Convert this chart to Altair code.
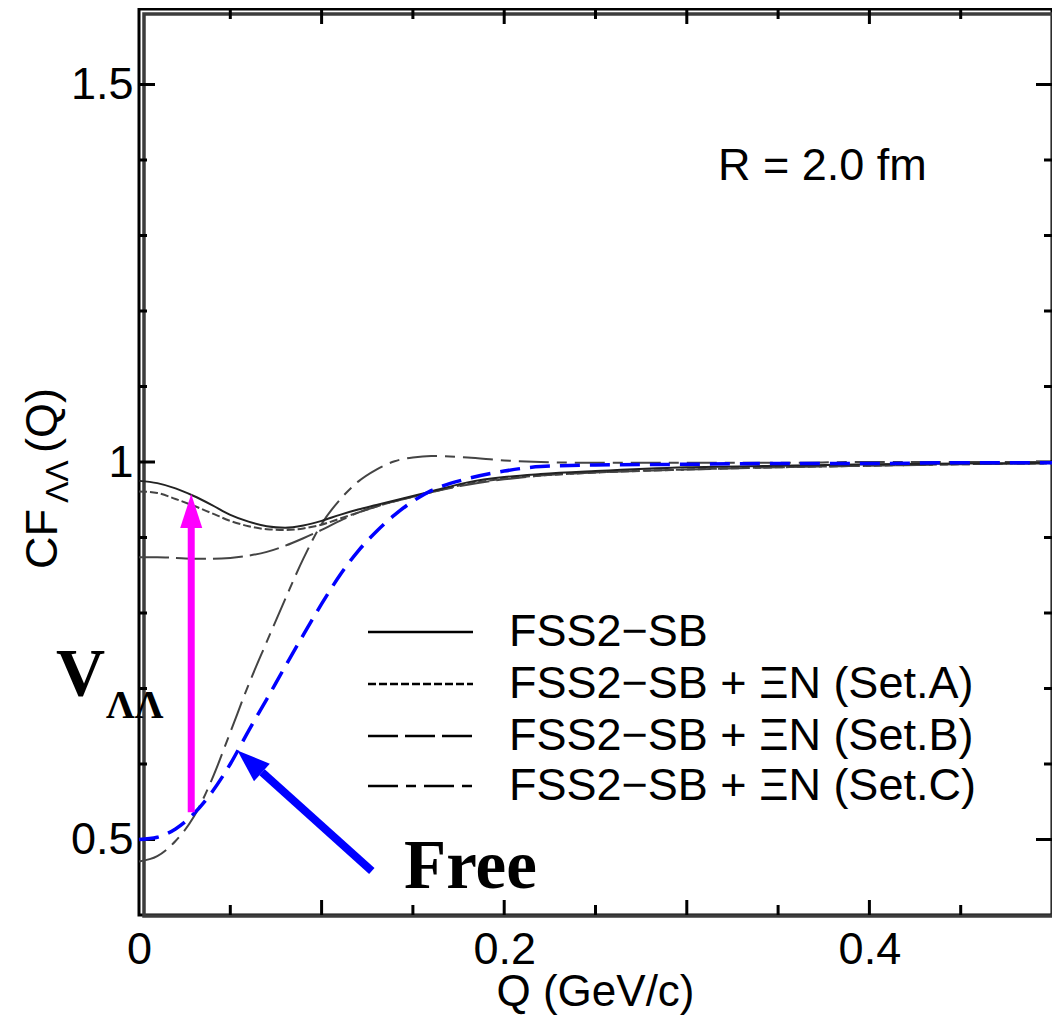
import altair as alt
import pandas as pd

# ---------------- data ----------------
q_values = [0.00, 0.01, 0.02, 0.03, 0.04, 0.05, 0.06, 0.07, 0.08, 0.09, 0.10, 0.11, 0.12,
            0.13, 0.14, 0.15, 0.16, 0.18, 0.20, 0.22, 0.25, 0.30, 0.35, 0.40, 0.45, 0.50]
cf_fss2 = [0.975, 0.972, 0.965, 0.955, 0.943, 0.930, 0.921, 0.915, 0.913, 0.916, 0.922, 0.930, 0.937,
           0.943, 0.949, 0.955, 0.961, 0.973, 0.980, 0.984, 0.988, 0.993, 0.995, 0.997, 0.998, 0.999]
cf_setA = [0.961, 0.959, 0.951, 0.942, 0.932, 0.922, 0.915, 0.911, 0.910, 0.912, 0.917, 0.925, 0.933,
           0.941, 0.948, 0.954, 0.960, 0.971, 0.978, 0.982, 0.986, 0.990, 0.993, 0.995, 0.997, 0.998]
cf_setB = [0.874, 0.874, 0.873, 0.872, 0.872, 0.873, 0.876, 0.881, 0.889, 0.899, 0.910, 0.922, 0.933,
           0.941, 0.948, 0.954, 0.960, 0.970, 0.977, 0.982, 0.986, 0.990, 0.993, 0.995, 0.997, 0.998]
cf_setC = [0.471, 0.478, 0.498, 0.530, 0.580, 0.642, 0.705, 0.762, 0.818, 0.872, 0.918, 0.950, 0.974,
           0.990, 1.001, 1.006, 1.008, 1.006, 1.002, 1.000, 0.999, 0.999, 0.999, 1.000, 1.000, 1.000]
cf_free = [0.500, 0.503, 0.514, 0.534, 0.563, 0.600, 0.644, 0.686, 0.729, 0.771, 0.812, 0.850, 0.882,
           0.908, 0.930, 0.948, 0.962, 0.978, 0.988, 0.994, 0.996, 0.997, 0.998, 0.998, 0.999, 0.999]

legend_labels = ["FSS2\u2212SB",
                 "FSS2\u2212SB + \u039eN (Set.A)",
                 "FSS2\u2212SB + \u039eN (Set.B)",
                 "FSS2\u2212SB + \u039eN (Set.C)"]

x_title = "Q (GeV/c)"
x_label_values = [0, 0.2, 0.4]
y_label_values = [0.5, 1.0, 1.5]
x_major_ticks = [0.1, 0.2, 0.3, 0.4]
x_minor_ticks = [0.05, 0.15, 0.25, 0.35, 0.45]
y_major_ticks = [0.5, 1.0, 1.5]
y_minor_ticks = [0.6, 0.7, 0.8, 0.9, 1.1, 1.2, 1.3, 1.4]

# annotation arrows (data coordinates)
vaa_arrow_q = [0.0286]
vaa_arrow_from = [0.536]
vaa_arrow_to = [0.913]
vaa_head_cf = [0.935]
free_arrow_q = [0.1275]
free_arrow_cf = [0.4583]
free_arrow_q2 = [0.0674]
free_arrow_cf2 = [0.589]
free_head_q = [0.0606]
free_head_cf = [0.6033]

# ---------------- styles ----------------
W, H = 913, 906
SANS = "Liberation Sans"
SERIF = "Liberation Serif"
FS = 45
dash_A = [8, 3]
dash_B = [30, 7]
dash_C = [30, 8, 10, 8]
dash_free = [20, 10]
legend_dashes = [None, dash_A, dash_B, dash_C]
legend_line_y = [632, 684, 736, 786]

xs = alt.Scale(domain=[0, 0.5], nice=False, zero=False)
ys = alt.Scale(domain=[0.4, 1.6], nice=False, zero=False)

x_axis = alt.Axis(values=x_label_values, format="~g", ticks=False, tickSize=0, domain=False, grid=False,
                  labelFont=SANS, labelFontSize=FS, labelColor="black", labelPadding=12, labelFlush=False,
                  title=None)
y_axis = alt.Axis(values=y_label_values, format="~g", ticks=False, tickSize=0, domain=False, grid=False,
                  labelFont=SANS, labelFontSize=FS, labelColor="black", labelPadding=6, title=None)

X = alt.X("Q:Q", scale=xs, axis=x_axis)
Y = alt.Y("CF:Q", scale=ys, axis=y_axis)


def curve(vals, color, width, dash=None):
    df = pd.DataFrame({"Q": q_values, "CF": vals})
    kw = dict(color=color, strokeWidth=width, interpolate="monotone")
    if dash is not None:
        kw["strokeDash"] = dash
    return alt.Chart(df).mark_line(**kw).encode(x=X, y=Y)


def one():
    return pd.DataFrame({"d": [0]})


layers = []

# inner gray frame line (shadow of the double frame)
layers.append(alt.Chart(one()).mark_rect(fill=None, stroke="#3c3c3c", strokeWidth=3.5).encode(
    x=alt.value(5), x2=alt.value(W + 1), y=alt.value(5), y2=alt.value(H + 1)))


# ticks (inward)
def xticks(vals, length):
    df = pd.DataFrame({"Q": vals})
    b = alt.Chart(df).mark_rule(color="black", strokeWidth=3)
    return [b.encode(x=X, y=alt.value(H), y2=alt.value(H - length)),
            b.encode(x=X, y=alt.value(0), y2=alt.value(length))]


def yticks(vals, length):
    df = pd.DataFrame({"CF": vals})
    b = alt.Chart(df).mark_rule(color="black", strokeWidth=3)
    return [b.encode(y=Y, x=alt.value(0), x2=alt.value(length)),
            b.encode(y=Y, x=alt.value(W), x2=alt.value(W - length))]


layers += xticks(x_major_ticks, 15)
layers += xticks(x_minor_ticks, 10)
layers += yticks(y_major_ticks, 16)
layers += yticks(y_minor_ticks, 8)

# curves
layers.append(curve(cf_setB, "#444444", 2, dash_B))
layers.append(curve(cf_setC, "#444444", 2, dash_C))
layers.append(curve(cf_setA, "#444444", 2, dash_A))
layers.append(curve(cf_fss2, "#222222", 2))
layers.append(curve(cf_free, "#0000ff", 3.5, dash_free))

# magenta arrow
vaa_df = pd.DataFrame({"Q": vaa_arrow_q, "CF": vaa_arrow_from, "CF2": vaa_arrow_to, "CFh": vaa_head_cf})
layers.append(alt.Chart(vaa_df).mark_rule(color="#ff00ff", strokeWidth=7).encode(
    x=X, y=Y, y2=alt.Y2("CF2:Q")))
layers.append(alt.Chart(vaa_df).mark_point(shape="M0,-1L0.65,1L-0.65,1Z", filled=True, size=1156,
                                           color="#ff00ff", opacity=1, strokeWidth=0).encode(
    x=X, y=alt.Y("CFh:Q", scale=ys, axis=y_axis)))

# blue arrow
free_df = pd.DataFrame({"Q": free_arrow_q, "CF": free_arrow_cf, "Q2": free_arrow_q2, "CF2": free_arrow_cf2,
                        "Qh": free_head_q, "CFh": free_head_cf})
layers.append(alt.Chart(free_df).mark_rule(color="#0000ff", strokeWidth=8).encode(
    x=X, y=Y, x2=alt.X2("Q2:Q"), y2=alt.Y2("CF2:Q")))
layers.append(alt.Chart(free_df).mark_point(shape="M0,-1L0.715,1L-0.715,1Z", filled=True, size=1089,
                                            angle=312, color="#0000ff", opacity=1, strokeWidth=0).encode(
    x=alt.X("Qh:Q", scale=xs, axis=x_axis), y=alt.Y("CFh:Q", scale=ys, axis=y_axis)))

# legend
for lab, dash, ly in zip(legend_labels, legend_dashes, legend_line_y):
    kw = dict(color="black", strokeWidth=2.5)
    if dash is not None:
        kw["strokeDash"] = dash
    layers.append(alt.Chart(one()).mark_rule(**kw).encode(
        x=alt.value(368 - 139), x2=alt.value(473 - 139), y=alt.value(ly - 9)))
    layers.append(alt.Chart(pd.DataFrame({"t": [lab]})).mark_text(
        font=SANS, fontSize=FS, align="left", baseline="alphabetic", color="black").encode(
        x=alt.value(509 - 139), y=alt.value(ly + 14 - 9), text="t:N"))


def label(txt, x, y, font, size, weight="normal", angle=0, align="left"):
    kw = dict(font=font, fontSize=size, fontWeight=weight, align=align, baseline="alphabetic", color="black")
    if angle:
        kw["angle"] = angle
    return alt.Chart(pd.DataFrame({"t": [txt]})).mark_text(**kw).encode(
        x=alt.value(x), y=alt.value(y), text="t:N")


layers.append(label("R = 2.0 fm", 579, 171, SANS, FS))
layers.append(label("Free", 265, 879, SERIF, 69, "bold"))
layers.append(label("V", -83, 686, SERIF, 68, "bold"))
layers.append(label("\u039b\u039b", -33, 709, SERIF, 40, "bold"))
# x-axis title
layers.append(label(x_title, W / 2, 997, SANS, 44, align="center"))
# y-axis title: CF_{ΛΛ} (Q), rotated
layers.append(label("CF", -82, 560, SANS, FS, angle=270))
layers.append(label("\u039b\u039b", -71, 494, SANS, 32, angle=270))
layers.append(label("(Q)", -82, 444, SANS, FS, angle=270))

chart = alt.layer(*layers).properties(
    width=W, height=H,
    autosize=alt.AutoSizeParams(type="none"),
    padding={"left": 131, "top": 1, "right": 0, "bottom": 102},
    background="white",
).configure_view(stroke="black", strokeWidth=3)

chart.save("out.html", embed_options={"renderer": "svg", "actions": False})
